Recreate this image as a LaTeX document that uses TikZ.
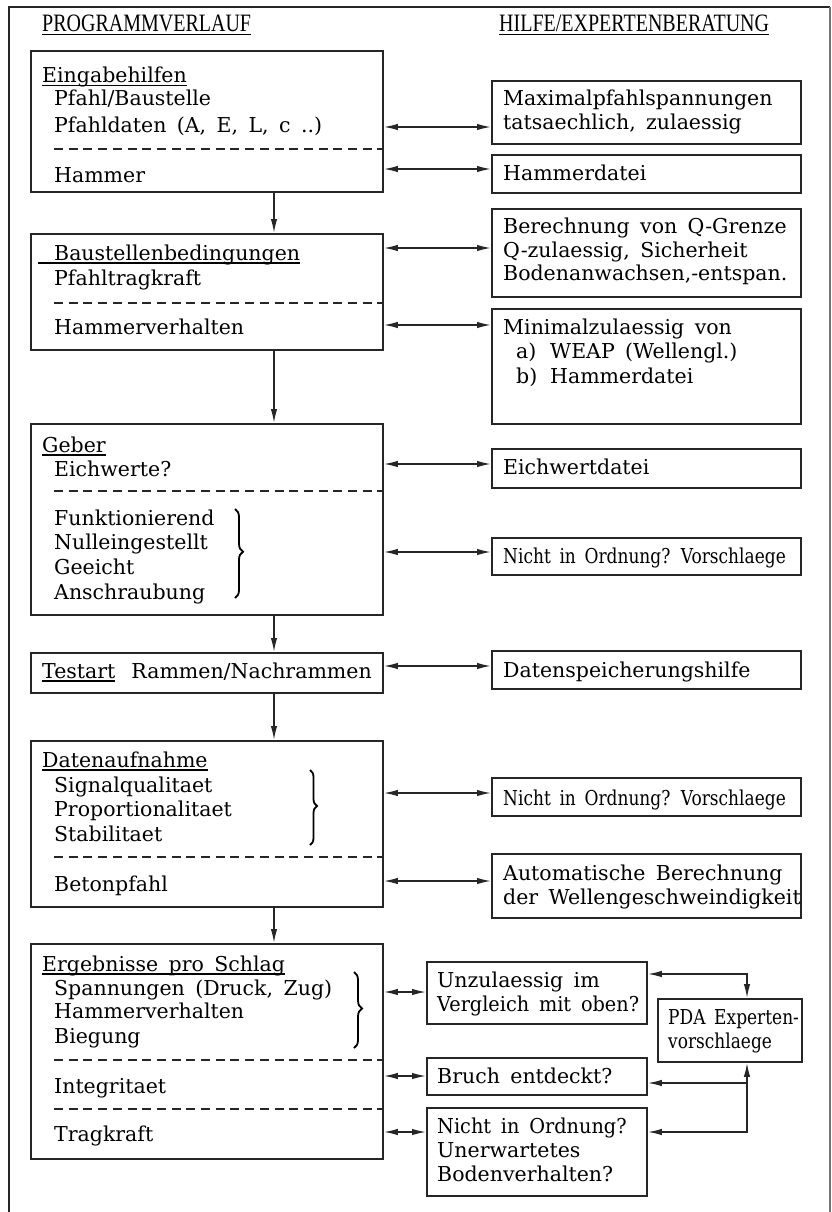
\documentclass[tikz,border=0pt]{standalone}
\usepackage{fontspec}
\setmainfont{DejaVu Serif}[WordSpace=1.6]
\newfontfamily\headfont{Liberation Serif}[FakeStretch=0.8]
\newfontfamily\condfont{DejaVu Serif}[FakeStretch=0.83,WordSpace=1.6]
\newfontfamily\semicond{DejaVu Serif}[FakeStretch=0.94,WordSpace=1.6]
\usetikzlibrary{arrows.meta,decorations.pathreplacing}

\newcommand{\bodysize}{\fontsize{20.5}{24}\selectfont}
\newcommand{\headsize}{\fontsize{25}{28}\selectfont}
\newcommand{\ulined}[1]{\setbox0\hbox{#1}\rlap{\rule[-3.5pt]{\wd0}{1.3pt}}\box0}

\begin{document}
\begin{tikzpicture}[x=1pt, y=-1pt,
    box/.style={rectangle, draw=black!85, line width=1.8pt, anchor=north west, inner sep=0pt},
    lbox/.style={box, minimum width=352pt},
    rbox/.style={box, minimum width=309pt},
    qbox/.style={box, minimum width=220pt},
    txt/.style={anchor=base west, inner sep=0pt, font=\bodysize},
    cond/.style={txt, font=\condfont\bodysize},
    head/.style={anchor=base west, inner sep=0pt, font=\headfont\headsize},
    sepline/.style={line width=1.5pt, dash pattern=on 9pt off 5.7pt, draw=black!85},
    tip/.style={Latex[length=14pt,width=6.5pt]},
    arrow/.style={-{Latex[length=14pt,width=6.5pt]}, line width=1.5pt, draw=black!85},
    biarrow/.style={{Latex[length=14pt,width=6.5pt]}-{Latex[length=14pt,width=6.5pt]}, line width=1.5pt, draw=black!85},
    curly/.style={decorate, decoration={brace, amplitude=8pt, aspect=0.48}, line width=1.8pt}
]
    \useasboundingbox (0,0) rectangle (832,1212);

    % Frame
    \draw[line width=1.8pt, black!85] (9,1212) -- (9,7) -- (830,7);
    \draw[line width=1.5pt, black!55] (830,7) -- (830,1212);

    % Headings
    \node[head] (verlauf) at (42,32) {\ulined{PROGRAMMVERLAUF}};
    \node[head] (beratung) at (499,32) {\ulined{HILFE/EXPERTENBERATUNG}};

    % Left boxes
    \node[lbox, minimum height=141pt] (eingabe) at (30,50) {};
    \node[lbox, minimum height=116pt] (baustelle) at (30,233) {};
    \node[lbox, minimum height=191pt] (geber) at (30,423) {};
    \node[lbox, minimum height=40pt] (testart) at (30,652) {};
    \node[lbox, minimum height=166pt] (daten) at (30,740) {};
    \node[lbox, minimum height=215pt] (ergebnis) at (30,943) {};

    \node[txt] (eingabehilfen) at (42,83) {\ulined{Eingabehilfen}};
    \node[txt] (pfahlbau) at (54,106) {Pfahl/Baustelle};
    \node[txt] (pfahldaten) at (54,132) {Pfahldaten (A, E, L, c ..)};
    \node[txt] (hammer) at (54,182) {Hammer};

    \node[txt] (bedingungen) at (38,260) {\ulined{\hspace{16pt}Baustellenbedingungen}};
    \node[txt] (tragkraft1) at (54,285) {Pfahltragkraft};
    \node[txt] (hverhalten1) at (54,334) {Hammerverhalten};

    \node[txt] (gebertitel) at (42,452) {\ulined{Geber}};
    \node[txt] (eichwerte) at (54,476) {Eichwerte?};
    \node[txt] (funktion) at (54,525) {Funktionierend};
    \node[txt] (nullein) at (54,549) {Nulleingestellt};
    \node[txt] (geeicht) at (54,574) {Geeicht};
    \node[txt] (schraub) at (54,599) {Anschraubung};

    \node[txt] (testtitel) at (42,678) {\ulined{Testart}\hspace{16pt}Rammen/Nachrammen};

    \node[txt] (datentitel) at (42,767) {\ulined{Datenaufnahme}};
    \node[txt] (signal) at (54,792) {Signalqualitaet};
    \node[txt] (proport) at (54,816) {Proportionalitaet};
    \node[txt] (stabil) at (54,841) {Stabilitaet};
    \node[txt] (beton) at (54,891) {Betonpfahl};

    \node[txt] (ergtitel) at (42,971) {\ulined{Ergebnisse pro Schlag}};
    \node[txt] (spannung) at (54,995) {Spannungen (Druck, Zug)};
    \node[txt] (hverhalten2) at (54,1018) {Hammerverhalten};
    \node[txt] (biegung) at (54,1043) {Biegung};
    \node[txt] (integritaet) at (54,1093) {Integritaet};
    \node[txt] (tragkraft2) at (54,1141) {Tragkraft};

    \foreach \b/\y in {eingabe/149, baustelle/303, geber/491, daten/857, ergebnis/1060, ergebnis/1109}
        \draw[sepline] (54,\y) -- (\b.east |- 0,\y);

    \draw[curly] (235,509) -- (235,598);
    \draw[curly, decoration={amplitude=7pt}] (310,770) -- (310,845);
    \draw[curly] (354,972) -- (354,1048);

    % Right boxes
    \node[rbox, minimum height=63pt] (maximal) at (491,80) {};
    \node[rbox, minimum height=38pt] (hdatei) at (491,154) {};
    \node[rbox, minimum height=88pt] (berechnung) at (491,208) {};
    \node[rbox, minimum height=115pt] (minimal) at (491,308) {};
    \node[rbox, minimum height=39pt] (eichdatei) at (491,448) {};
    \node[rbox, minimum height=37pt] (vorschlag1) at (491,537) {};
    \node[rbox, minimum height=38pt] (speicher) at (491,650) {};
    \node[rbox, minimum height=38pt] (vorschlag2) at (491,777) {};
    \node[rbox, minimum height=64pt] (automatik) at (491,853) {};

    \node[txt] (maxtext1) at (503,106) {Maximalpfahlspannungen};
    \node[txt] (maxtext2) at (503,129) {tatsaechlich, zulaessig};
    \node[txt] (hdtext) at (503,180) {Hammerdatei};
    \node[txt] (bertext1) at (503,233) {Berechnung von Q-Grenze};
    \node[txt] (bertext2) at (503,257) {Q-zulaessig, Sicherheit};
    \node[txt] (bertext3) at (503,280) {Bodenanwachsen,-entspan.};
    \node[txt] (mintext1) at (503,334) {Minimalzulaessig von};
    \node[txt] (mintext2) at (516,358) {\makebox[34pt][l]{a)}WEAP (Wellengl.)};
    \node[txt] (mintext3) at (516,383) {\makebox[34pt][l]{b)}Hammerdatei};
    \node[txt] (eichtext) at (503,474) {Eichwertdatei};
    \node[cond] (vortext1) at (503,563) {Nicht in Ordnung? Vorschlaege};
    \node[txt] (speichtext) at (503,677) {Datenspeicherungshilfe};
    \node[cond] (vortext2) at (503,805) {Nicht in Ordnung? Vorschlaege};
    \node[txt] (autotext1) at (503,880) {Automatische Berechnung};
    \node[txt] (autotext2) at (503,904) {der Wellengeschweindigkeit};

    % Result checks
    \node[qbox, minimum height=62pt] (unzul) at (426,961) {};
    \node[qbox, minimum height=37pt] (bruch) at (426,1057) {};
    \node[qbox, minimum height=88pt] (boden) at (426,1107) {};
    \node[box, minimum width=144pt, minimum height=63pt] (pda) at (657,998) {};

    \node[txt] (unztext1) at (437,987) {Unzulaessig im};
    \node[txt, font=\semicond\bodysize] (unztext2) at (437,1011) {Vergleich mit oben?};
    \node[txt] (bruchtext) at (437,1083) {Bruch entdeckt?};
    \node[txt, font=\semicond\bodysize] (bodtext1) at (437,1133) {Nicht in Ordnung?};
    \node[txt] (bodtext2) at (437,1157) {Unerwartetes};
    \node[txt] (bodtext3) at (437,1181) {Bodenverhalten?};
    \node[cond] (pdatext1) at (668,1024) {PDA Experten-};
    \node[cond] (pdatext2) at (668,1048) {vorschlaege};

    % Arrows
    \foreach \a/\b in {eingabe/baustelle, baustelle/geber, geber/testart, testart/daten, daten/ergebnis}
        \draw[arrow] (\a.south -| 274,0) -- (\b.north -| 274,0);

    \foreach \l/\r/\y in {eingabe/maximal/127, eingabe/hdatei/169, baustelle/berechnung/248,
        baustelle/minimal/325, geber/eichdatei/464, geber/vorschlag1/552, testart/speicher/666,
        daten/vorschlag2/793, daten/automatik/881, ergebnis/unzul/992, ergebnis/bruch/1076,
        ergebnis/boden/1132}
        \draw[biarrow] (\l.east |- 0,\y) -- (\r.west |- 0,\y);

    \coordinate (split) at (747,1083);
    \draw[biarrow] (unzul.east |- 0,974) -| (pda.north -| split);
    \draw[biarrow] (pda.south -| split) |- (boden.east |- 0,1132);
    \draw[arrow] (split) -- (bruch.east |- split);

\end{tikzpicture}
\end{document}
